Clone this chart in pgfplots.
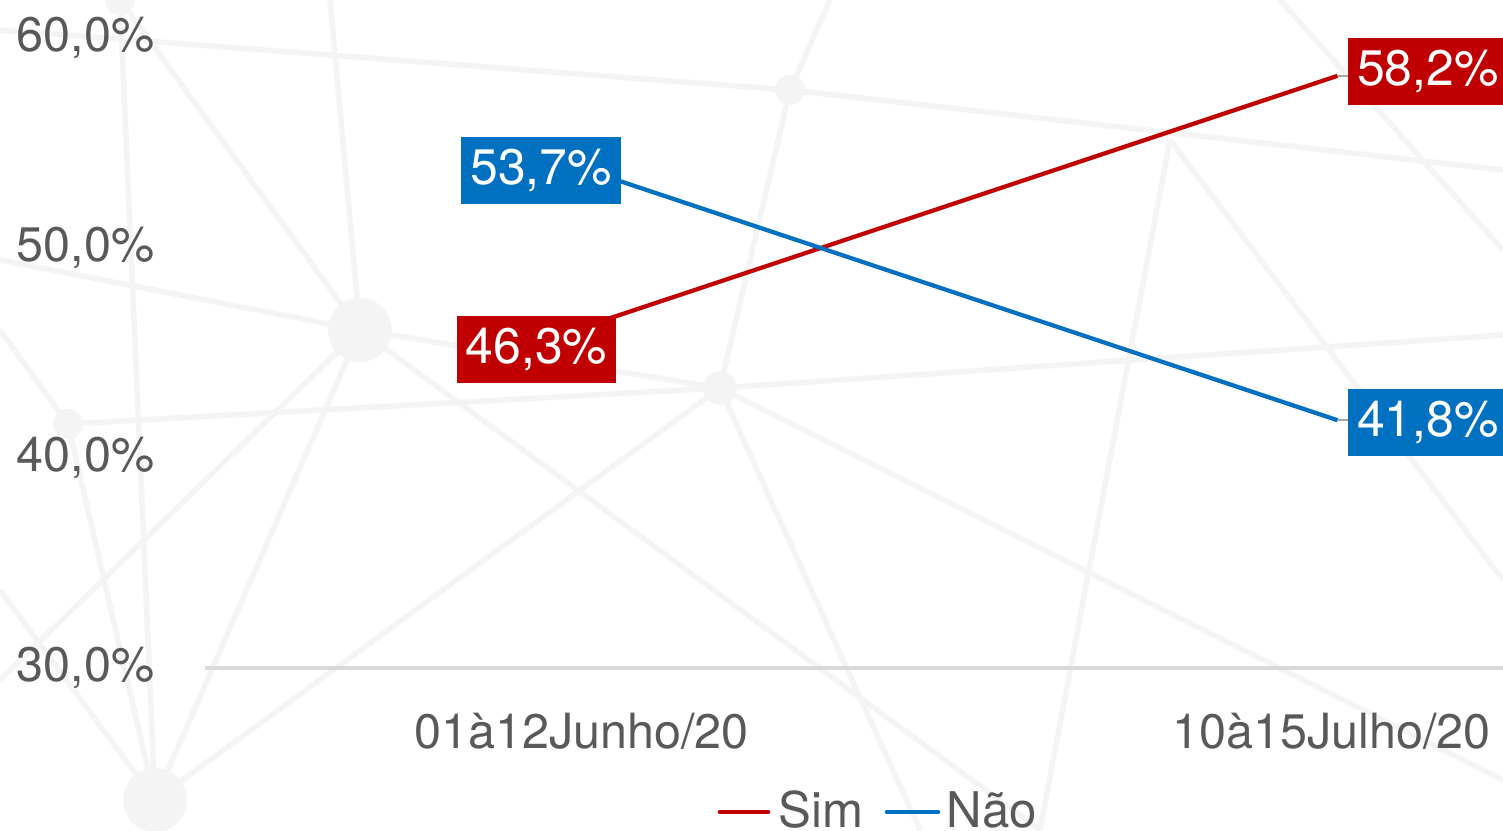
\documentclass[border=0pt]{standalone}
\usepackage{fontspec}
\setmainfont{TeX Gyre Heros}
\usepackage{pgfplots}
\pgfplotsset{compat=1.18}
\definecolor{cred}{HTML}{C00000}
\definecolor{cblue}{HTML}{0070C0}
\definecolor{ctxt}{HTML}{595959}
\definecolor{bgl}{HTML}{F4F4F4}
\begin{document}
\begin{tikzpicture}[x=1cm,y=1cm]
\useasboundingbox (0,0) rectangle (15.03,8.30);
\clip (0,0) rectangle (15.03,8.30);
% faint background network (pixel coords: x/100, (830-y)/100)
\begin{scope}[bgl, line width=1.6pt]
\draw (1.20,8.30) -- (1.55,0.30);
\draw (1.20,8.30) -- (3.60,5.00);
\draw (3.30,8.30) -- (3.60,5.00);
\draw (0,5.70) -- (3.60,5.00) -- (7.20,4.42);
\draw (3.60,5.00) -- (1.55,0.30);
\draw (3.60,5.00) -- (10.40,0);
\draw (0.68,4.06) -- (7.20,4.42) -- (15.03,4.95);
\draw (7.20,4.42) -- (9.20,0);
\draw (7.20,4.42) -- (15.03,0.5);
\draw (7.90,7.40) -- (7.20,4.42);
\draw (0,8.00) -- (7.90,7.40) -- (15.03,6.60);
\draw (7.90,7.40) -- (8.30,8.30);
\draw (11.70,6.90) -- (10.40,0);
\draw (12.80,8.30) -- (15.03,5.80);
\draw (0.68,4.06) -- (1.55,0.30);
\draw (0,2.40) -- (1.55,0.30) -- (7.20,4.42);
\draw (0.68,4.06) -- (0,5.00);
\draw (11.70,6.90) -- (15.03,2.50);
\draw (3.60,5.00) -- (0,1.50);
\fill (3.60,5.00) circle (0.32);
\fill (1.55,0.30) circle (0.32);
\fill (0.68,4.06) circle (0.15);
\fill (7.20,4.42) circle (0.17);
\fill (7.90,7.40) circle (0.15);
\fill (1.20,8.30) circle (0.15);
\end{scope}
\begin{axis}[
  at={(2.05cm,1.62cm)}, anchor=south west,
  scale only axis, width=12.985cm, height=6.30cm,
  xmin=-0.51, xmax=1.2213, ymin=30, ymax=60,
  clip=false,
  axis x line*=bottom, axis y line*=left,
  y axis line style={draw=none},
  x axis line style={draw=black!15, line width=1pt},
  tick style={draw=none},
  xtick={0,1}, xticklabels={01à12Junho/20,10à15Julho/20},
  ytick={30,40,50,60}, yticklabels={{30,0\%},{40,0\%},{50,0\%},{60,0\%}},
  tick label style={font=\fontsize{13.8}{16}\selectfont, text=ctxt, inner sep=0pt},
  yticklabel style={anchor=east, xshift=-0.5cm},
  xticklabel style={anchor=north, yshift=-0.44cm, xshift=-0.06cm},
]
\addplot[cred, line width=1.2pt] coordinates {(0,46.3) (1,58.2)};
\addplot[cblue, line width=1.2pt] coordinates {(0,53.7) (1,41.8)};
\draw[black!35, line width=0.6pt] (axis cs:1,58.2) -- ([xshift=0.10cm]axis cs:1,58.2);
\draw[black!35, line width=0.6pt] (axis cs:1,41.8) -- ([xshift=0.10cm]axis cs:1,41.8);
\tikzset{lab/.style={text=white, inner xsep=0.09cm, inner ysep=0pt, minimum height=0.67cm, font=\fontsize{14.2}{17}\selectfont}}
\node[lab, fill=cred, xshift=-0.51cm, yshift=-0.235cm] at (axis cs:0,46.3) {46,3\%};
\node[lab, fill=cblue, xshift=-0.465cm] at (axis cs:0,53.7) {53,7\%};
\node[lab, fill=cred, anchor=west, xshift=0.10cm, yshift=0.04cm] at (axis cs:1,58.2) {58,2\%};
\node[lab, fill=cblue, anchor=west, xshift=0.10cm, yshift=-0.025cm] at (axis cs:1,41.8) {41,8\%};
\end{axis}
% legend
\draw[cred, line width=1.3pt, line cap=round] (7.20,0.18) -- (7.68,0.18);
\node[anchor=base west, inner sep=0pt, text=ctxt, font=\fontsize{14}{17}\selectfont] at (7.78,0.03) {Sim};
\draw[cblue, line width=1.3pt, line cap=round] (8.87,0.18) -- (9.38,0.18);
\node[anchor=base west, inner sep=0pt, text=ctxt, font=\fontsize{14}{17}\selectfont] at (9.46,0.03) {Não};
\end{tikzpicture}
\end{document}
